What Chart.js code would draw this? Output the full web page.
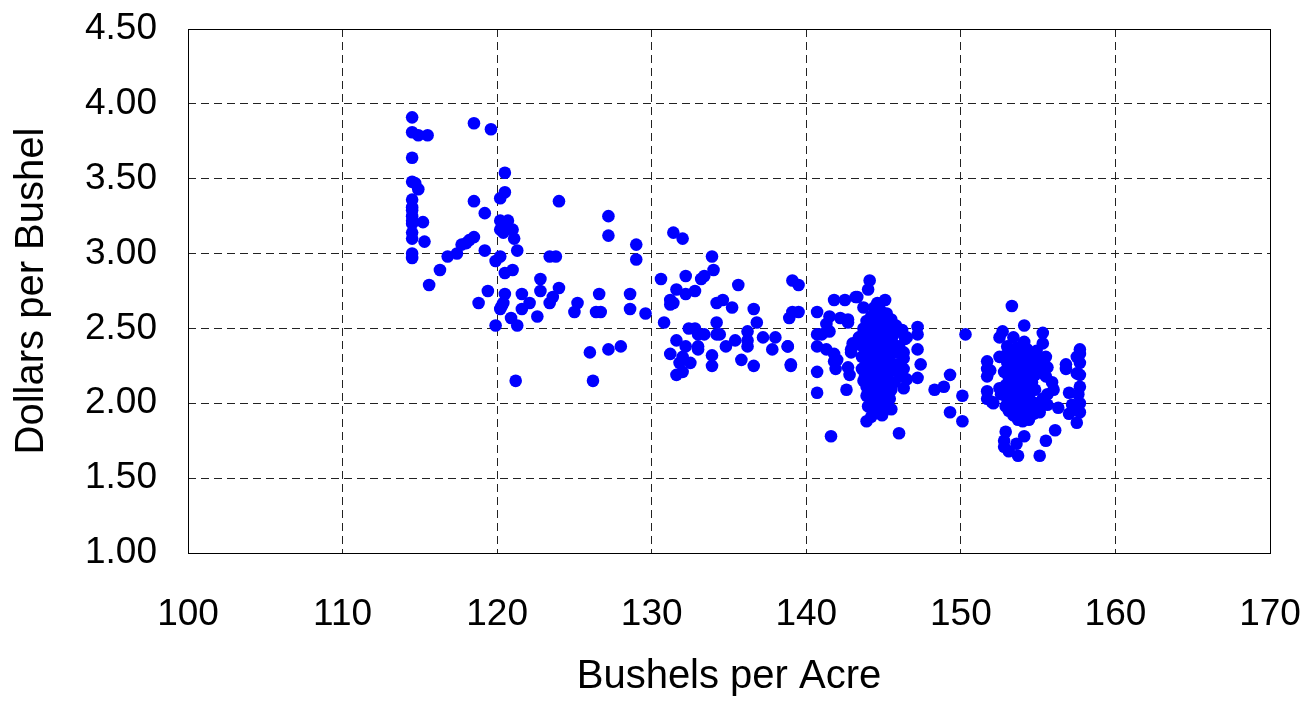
<!DOCTYPE html>
<html>
<head>
<meta charset="utf-8">
<script src="https://cdn.jsdelivr.net/npm/chart.js@4"></script>
<style>
html,body{margin:0;padding:0;background:#fff;}
#wrap{width:1310px;height:704px;position:relative;}
</style>
</head>
<body>
<div id="wrap"><canvas id="c" width="1310" height="704"></canvas></div>
<script>
// Axis tick values
const xTicks = [100, 110, 120, 130, 140, 150, 160, 170];
const yTicks = [1.00, 1.50, 2.00, 2.50, 3.00, 3.50, 4.00, 4.50];

// Observations: [bushels per acre, dollars per bushel]
const yield114to118 = [
  [114.5,3.91],[114.5,3.81],[114.9,3.79],[115.5,3.79],[114.5,3.64],[114.5,3.48],[114.7,3.47],[114.9,3.43],
  [114.5,3.36],[114.5,3.31],[114.5,3.29],[114.5,3.25],[114.5,3.22],[114.5,3.20],[114.5,3.14],[114.5,3.10],
  [115.2,3.21],[115.3,3.08],[114.5,3.00],[114.5,2.97],[115.6,2.79],[116.3,2.89],[116.8,2.98],[117.4,3.00],
  [117.7,3.06],[118.0,3.07],[118.2,3.09],[118.5,3.11]
];
const yield118to123 = [
  [118.5,3.87],[119.6,3.83],[118.5,3.35],[119.2,3.27],[119.2,3.02],[120.5,3.54],[120.5,3.41],[120.2,3.37],
  [120.2,3.22],[120.7,3.22],[120.4,3.19],[121.0,3.16],[120.4,3.14],[120.2,3.16],[121.1,3.10],[121.3,3.02],
  [120.2,2.98],[119.9,2.95],[120.5,2.87],[121.0,2.89],[119.4,2.75],[118.8,2.67],[120.5,2.73],[120.4,2.67],
  [120.2,2.63],[120.3,2.65],[121.6,2.73],[121.6,2.63],[122.1,2.67],[122.6,2.58],[119.9,2.52],[120.9,2.57],
  [121.3,2.52],[121.2,2.15]
];
const yield123to130 = [
  [122.8,2.83],[122.8,2.75],[124.0,2.77],[124.0,3.35],[123.4,2.98],[123.8,2.98],[123.6,2.71],[123.4,2.67],
  [125.2,2.67],[125.0,2.61],[126.6,2.73],[126.4,2.61],[126.7,2.61],[128.6,2.73],[128.6,2.63],[129.6,2.60],
  [127.2,3.25],[127.2,3.12],[129.0,3.06],[129.0,2.96],[126.0,2.34],[127.2,2.36],[128.0,2.38],[126.2,2.15]
];
const yield130to140 = [
  [131.4,3.14],[132.0,3.10],[133.9,2.98],[134.0,2.89],[132.2,2.85],[130.6,2.83],[133.2,2.83],[133.4,2.85],
  [135.6,2.79],[131.6,2.76],[132.2,2.73],[132.8,2.75],[131.2,2.69],[131.2,2.66],[131.4,2.67],[134.2,2.67],
  [134.6,2.69],[135.2,2.64],[139.1,2.82],[139.5,2.79],[136.6,2.63],[136.8,2.54],[130.8,2.54],[138.9,2.57],
  [139.1,2.61],[139.5,2.61],[132.4,2.50],[132.8,2.50],[133.0,2.46],[133.4,2.46],[134.2,2.54],[134.2,2.46],
  [134.4,2.46],[136.2,2.48],[136.2,2.42],[136.2,2.38],[137.2,2.44],[138.0,2.44],[135.4,2.42],[134.8,2.38],
  [131.6,2.42],[132.2,2.38],[133.0,2.38],[133.0,2.36],[131.2,2.33],[132.0,2.31],[132.5,2.27],[131.8,2.27],
  [133.9,2.32],[133.9,2.25],[135.8,2.29],[136.6,2.25],[137.8,2.36],[138.8,2.38],[139.0,2.25],[131.6,2.19],
  [132.0,2.21],[138.8,2.38],[139.0,2.26]
];
const yield140to143 = [
  [140.7,2.61],[141.5,2.58],[141.3,2.53],[141.5,2.48],[140.7,2.46],[141.0,2.46],[140.7,2.38],[141.3,2.36],
  [141.8,2.33],[141.8,2.28],[141.9,2.23],[140.7,2.21],[140.7,2.07],[141.8,2.69],[142.5,2.69],[143.2,2.71],
  [142.2,2.57],[142.7,2.54],[143.7,2.64],[142.0,2.29],[142.9,2.36],[142.7,2.24],[142.8,2.19],[142.6,2.09],
  [141.6,1.78],[143.4,2.44],[143.0,2.40],[142.7,2.56],[142.9,2.34]
];
const yield143to146 = [
  [144.1,2.82],[144.0,2.76],[143.3,2.71],[145.1,2.69],[144.6,2.67],[144.4,2.64],[144.8,2.62],[145.2,2.60],
  [144.2,2.58],[144.6,2.57],[145.5,2.56],[143.9,2.55],[144.9,2.54],[145.8,2.52],[144.3,2.52],[143.7,2.50],
  [144.7,2.50],[145.3,2.49],[144.0,2.48],[146.1,2.48],[144.5,2.46],[145.0,2.46],[143.6,2.45],[145.6,2.45],
  [144.2,2.44],[144.8,2.43],[146.4,2.43],[143.9,2.42],[145.2,2.42],[144.4,2.40],[145.6,2.40],[143.5,2.39],
  [144.9,2.38],[146.0,2.38],[144.1,2.37],[145.3,2.36],[143.8,2.35],[144.6,2.34],[145.8,2.34],[144.2,2.32],
  [145.1,2.32],[143.6,2.31],[144.8,2.30],[146.3,2.30],[144.4,2.28],[145.4,2.28],[143.9,2.27],[144.9,2.26],
  [145.9,2.26],[144.1,2.24],[145.2,2.24],[143.6,2.23],[144.6,2.22],[145.6,2.22],[144.3,2.20],[145.0,2.20],
  [143.8,2.19],[144.8,2.18],[146.1,2.18],[144.1,2.16],[145.3,2.16],[143.7,2.15],[144.6,2.14],[145.7,2.14],
  [144.3,2.12],[145.0,2.12],[143.9,2.11],[144.8,2.10],[145.5,2.09],[144.1,2.08],[144.5,2.06],[145.2,2.06],
  [143.9,2.05],[144.7,2.04],[145.4,2.03],[144.2,2.02],[144.9,2.01],[144.4,1.99],[145.1,1.98],[144.0,1.98],
  [144.6,1.97],[145.5,1.96],[143.9,1.88],[144.2,1.91],[144.9,1.92],[145.0,1.95],[146.0,1.80]
];
const yield146to151 = [
  [146.2,2.49],[146.5,2.44],[147.2,2.51],[147.2,2.46],[146.3,2.34],[147.2,2.36],[147.4,2.26],[146.3,2.23],
  [146.5,2.16],[147.2,2.17],[146.3,2.10],[150.3,2.46],[150.1,2.05],[149.3,1.94],[150.1,1.88],[149.3,2.19],
  [148.9,2.11],[148.3,2.09]
];
const yield151to156 = [
  [153.3,2.65],[154.1,2.52],[152.7,2.48],[152.5,2.44],[155.3,2.47],[155.3,2.40],[153.4,2.44],[154.1,2.41],
  [153.0,2.38],[152.9,2.32],[152.5,2.31],[151.7,2.28],[151.7,2.23],[151.7,2.18],[153.6,2.37],[154.3,2.36],
  [153.2,2.34],[153.9,2.33],[154.6,2.32],[153.5,2.30],[154.2,2.29],[153.0,2.27],[153.8,2.26],[154.5,2.25],
  [153.3,2.23],[154.0,2.22],[152.8,2.21],[154.7,2.20],[153.6,2.19],[154.3,2.18],[153.1,2.17],[153.9,2.15],
  [154.6,2.14],[153.4,2.13],[152.9,2.12],[154.2,2.11],[153.7,2.10],[154.8,2.09],[153.2,2.08],[154.0,2.07],
  [153.5,2.05],[154.4,2.04],[153.0,2.03],[153.8,2.02],[154.6,2.01],[153.3,2.00],[154.1,1.99],[152.9,1.98],
  [153.6,1.97],[154.4,1.96],[153.1,1.95],[153.9,1.94],[154.7,1.93],[153.4,1.92],[154.2,1.91],[153.7,1.89],
  [154.4,1.89],[154.0,1.88],[155.0,2.00],[155.3,2.03],[155.6,2.06],[155.5,2.31],[155.1,2.29],[155.6,2.24],
  [154.8,2.19],[155.5,2.18],[155.9,2.14],[156.0,2.09],[156.3,1.97],[155.6,1.99],[155.1,1.94],[154.8,1.98],
  [155.1,2.24],[154.9,2.35],[151.7,2.08],[152.0,2.01],[151.7,2.03],[152.5,2.10],[152.6,2.06],[152.1,2.00],
  [151.9,2.22],[152.9,1.81],[152.8,1.75],[152.8,1.71],[153.1,1.68],[153.7,1.65],[153.6,1.73],[154.1,1.78],
  [156.1,1.82],[155.5,1.75],[155.1,1.65]
];
const yield156to158 = [
  [157.7,2.36],[157.5,2.31],[157.7,2.27],[156.8,2.26],[157.5,2.20],[157.7,2.19],[157.7,2.11],[157.0,2.07],
  [157.6,2.06],[157.7,2.00],[157.2,1.99],[157.0,1.93],[157.7,1.94],[157.5,1.87],[156.8,2.23],[157.7,2.33]
];

const allPoints = [].concat(yield114to118, yield118to123, yield123to130, yield130to140,
  yield140to143, yield143to146, yield146to151, yield151to156, yield156to158)
  .map(p => ({x: p[0], y: p[1]}));

const FONT = "'Liberation Sans', Arial, sans-serif";

const borderBox = {
  id: 'borderBox',
  afterDraw(chart) {
    const {ctx, chartArea: a} = chart;
    ctx.save();
    ctx.strokeStyle = '#000';
    ctx.lineWidth = 1;
    ctx.setLineDash([]);
    ctx.strokeRect(Math.round(a.left) + 0.5, Math.round(a.top) + 0.5,
      Math.round(a.right - a.left), Math.round(a.bottom - a.top));
    ctx.restore();
  }
};

new Chart(document.getElementById('c'), {
  type: 'scatter',
  data: {
    datasets: [{
      data: allPoints,
      backgroundColor: '#0000FF',
      borderColor: '#0000FF',
      borderWidth: 0,
      pointRadius: 6.3,
      pointHoverRadius: 6.3
    }]
  },
  options: {
    responsive: false,
    animation: false,
    events: [],
    layout: {padding: {top: 29, right: 40, left: 0, bottom: 0}},
    plugins: {legend: {display: false}, tooltip: {enabled: false}},
    scales: {
      x: {
        type: 'linear',
        min: xTicks[0], max: xTicks[xTicks.length - 1],
        afterFit(s) { s.height = 151; s.paddingLeft = 0; s.paddingRight = 0; },
        afterBuildTicks(s) { s.ticks = xTicks.map(v => ({value: v})); },
        grid: {color: '#222', lineWidth: 1, drawTicks: false},
        border: {display: false, dash: [8, 5]},
        ticks: {color: '#000', font: {family: FONT, size: 37}, padding: 40, maxRotation: 0,
          callback: v => String(v)},
        title: {display: true, text: 'Bushels per Acre', color: '#000',
          font: {family: FONT, size: 40, lineHeight: 1}, padding: {top: 0, bottom: 7}}
      },
      y: {
        type: 'linear',
        min: yTicks[0], max: yTicks[yTicks.length - 1],
        afterFit(s) { s.width = 188; s.paddingTop = 0; s.paddingBottom = 0; },
        afterBuildTicks(s) { s.ticks = yTicks.map(v => ({value: v})); },
        grid: {color: '#222', lineWidth: 1, drawTicks: false},
        border: {display: false, dash: [8, 5]},
        ticks: {color: '#000', font: {family: FONT, size: 37}, padding: 31,
          callback: v => Number(v).toFixed(2)},
        title: {display: true, text: 'Dollars per Bushel', color: '#000',
          font: {family: FONT, size: 40, lineHeight: 1}, padding: {top: 12, bottom: 0}}
      }
    }
  },
  plugins: [borderBox]
});
</script>
</body>
</html>
